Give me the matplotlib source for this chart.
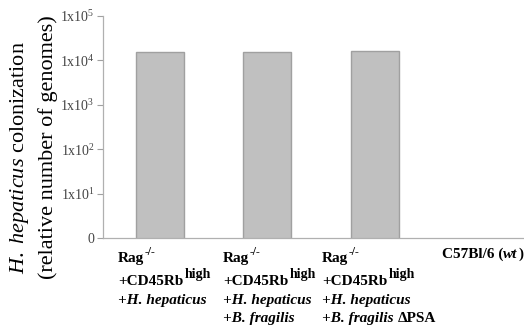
import matplotlib
matplotlib.use("Agg")
import matplotlib.pyplot as plt

plt.rcParams['font.family'] = 'Liberation Serif'
plt.rcParams['mathtext.fontset'] = 'custom'
plt.rcParams['mathtext.rm'] = 'Liberation Serif'
plt.rcParams['mathtext.it'] = 'Liberation Serif:italic'
plt.rcParams['mathtext.bf'] = 'Liberation Serif:bold'

# colonization per group (relative genome copies); wild type has none
groups = ["Rag + CD45Rb high + Hh", "Rag + CD45Rb high + Hh + Bf",
          "Rag + CD45Rb high + Hh + Bf dPSA", "C57Bl/6 (wt)"]
genomes = [15500, 15300, 16500, 0]
ytick_vals = [1, 10, 100, 1000, 10000, 100000]
ytick_labels = ["0"] + ["1x10$^{%d}$" % k for k in range(1, 6)]

W, H = 524, 329
fig = plt.figure(figsize=(W / 100, H / 100), dpi=100)
ax = fig.add_axes([103 / W, 1 - 238 / H, 421 / W, 222 / H])

x = list(range(len(groups)))
bx = [i for i, v in zip(x, genomes) if v > 0]
bv = [v for v in genomes if v > 0]
ax.bar(bx, bv, width=0.45, color='#c0c0c0', edgecolor='#a0a0a0', linewidth=1.0)

ax.set_yscale('log')
ax.set_ylim(1, 1e5)
ax.set_xlim(-0.53, 3.39)
ax.set_yticks(ytick_vals)
ax.set_yticklabels(ytick_labels)
ax.minorticks_off()
ax.set_xticks([])
ax.tick_params(axis='y', length=4, width=0.8, color='#a0a0a0', labelcolor='#444444',
               labelsize=10, pad=2)
for side in ('top', 'right'):
    ax.spines[side].set_visible(False)
for side in ('left', 'bottom'):
    ax.spines[side].set_color('#b0b0b0')
    ax.spines[side].set_linewidth(0.9)

# two-line y axis title
fig.text(20 / W, 1 - 158 / H, r"$\mathit{H.\ hepaticus}$ colonization",
         rotation=90, ha='center', va='center', fontsize=16)
fig.text(48 / W, 1 - 147 / H, "(relative number of genomes)",
         rotation=90, ha='center', va='center', fontsize=16)

renderer = fig.canvas.get_renderer()
B = dict(fontsize=11, fontweight='bold')
BI = dict(fontsize=11, fontweight='bold', fontstyle='italic')
SUP = dict(fontsize=8.5, fontweight='bold')
HIGH = dict(fontsize=10, fontweight='bold')


def draw_runs(x0, y0, runs):
    # place text pieces one after another on a shared baseline (pixels from top)
    xp = x0
    for s, kw, rise, gap in runs:
        xp += gap
        t = fig.text(xp / W, 1 - (y0 - rise) / H, s, ha='left', va='baseline', **kw)
        xp += t.get_window_extent(renderer=renderer).width


rag = [("Rag", B, 0, 0), ("-/-", SUP, 7, 0)]
cd45 = [("+CD45Rb", B, 0, 0), ("high", HIGH, 7, 1)]
hh = [("+H. hepaticus", BI, 0, 0)]
bf = [("+B. fragilis", BI, 0, 0)]
bf_dpsa = [("+B. fragilis", BI, 0, 0), ("\u0394PSA", B, 0, 4)]
wt = [("C57Bl/6 (", B, 0, 0), ("wt", BI, 0, 0), (")", B, 0, 1)]

baselines = [262, 285, 304, 322]
label_x = [118, 223, 322, 442]
blocks = [[rag, cd45, hh], [rag, cd45, hh, bf], [rag, cd45, hh, bf_dpsa]]
for lx, block in zip(label_x, blocks):
    for yb, line in zip(baselines, block):
        draw_runs(lx, yb, line)
draw_runs(label_x[3], 258, wt)

fig.savefig('out.png', dpi=100)
